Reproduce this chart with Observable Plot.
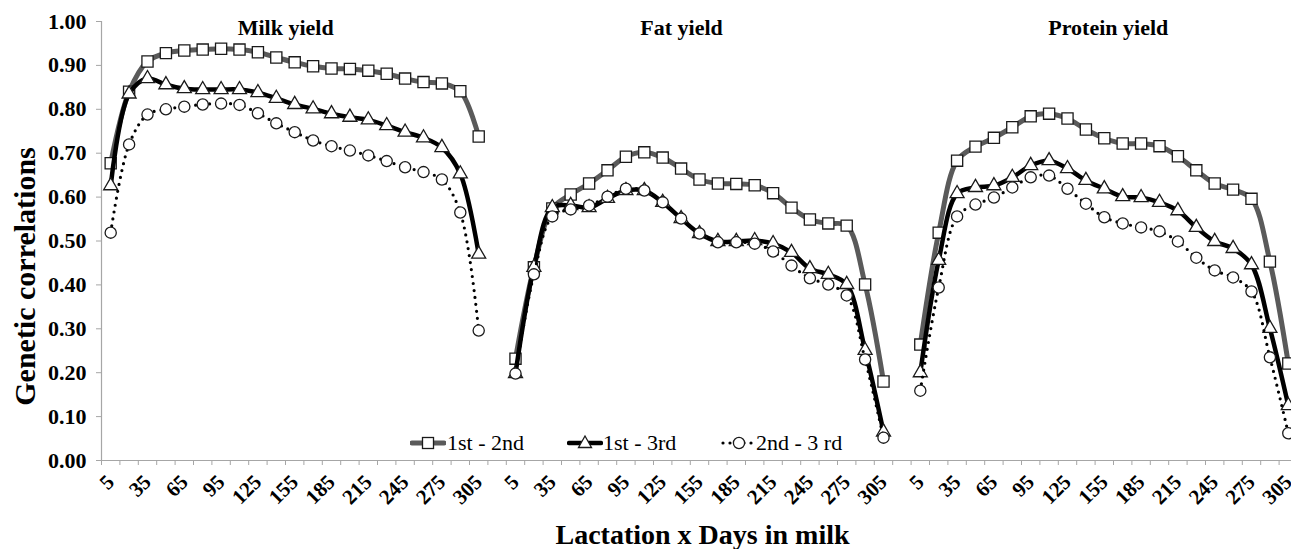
<!DOCTYPE html>
<html>
<head>
<meta charset="utf-8">
<script src="https://cdn.jsdelivr.net/npm/d3@7"></script>
<script src="https://cdn.jsdelivr.net/npm/@observablehq/plot@0.6"></script>
<style>
  html, body { margin: 0; padding: 0; background: #fff; }
  #wrap { position: relative; width: 1291px; height: 549px; overflow: hidden; font-family: "Liberation Serif", "Times New Roman", serif; }
  .leg { position: absolute; top: 432px; height: 22px; display: flex; align-items: center; font-size: 22px; color: #000; white-space: nowrap; font-family: "Liberation Serif", serif; }
  .leg svg { display: block; margin-right: 1px; }
</style>
</head>
<body>
<div id="wrap"></div>
<script>
// ---- data ----
const traits = ["Milk yield", "Fat yield", "Protein yield"];
const days = [5, 20, 35, 50, 65, 80, 95, 110, 125, 140, 155, 170, 185, 200, 215, 230, 245, 260, 275, 290, 305];
const xTickLabels = ["5", "35", "65", "95", "125", "155", "185", "215", "245", "275", "305"];
const yTickValues = [0, 0.1, 0.2, 0.3, 0.4, 0.5, 0.6, 0.7, 0.8, 0.9, 1.0];
const yTickLabels = ["0.00", "0.10", "0.20", "0.30", "0.40", "0.50", "0.60", "0.70", "0.80", "0.90", "1.00"];
const pairs = ["1st - 2nd", "1st - 3rd", "2nd - 3 rd"];

const milk12 = [0.677, 0.840, 0.909, 0.928, 0.934, 0.936, 0.938, 0.936, 0.930, 0.918, 0.907, 0.898, 0.893, 0.892, 0.888, 0.881, 0.870, 0.862, 0.859, 0.841, 0.738];
const milk13 = [0.626, 0.835, 0.870, 0.856, 0.847, 0.845, 0.845, 0.845, 0.838, 0.825, 0.811, 0.801, 0.790, 0.782, 0.776, 0.763, 0.748, 0.735, 0.713, 0.653, 0.470];
const milk23 = [0.519, 0.720, 0.788, 0.800, 0.806, 0.811, 0.813, 0.810, 0.791, 0.768, 0.748, 0.729, 0.716, 0.706, 0.695, 0.682, 0.668, 0.657, 0.640, 0.565, 0.296];

const fat12 = [0.232, 0.440, 0.574, 0.606, 0.631, 0.661, 0.692, 0.702, 0.690, 0.665, 0.640, 0.631, 0.630, 0.627, 0.609, 0.576, 0.549, 0.540, 0.535, 0.401, 0.180];
const fat13 = [0.198, 0.440, 0.576, 0.581, 0.576, 0.597, 0.615, 0.615, 0.588, 0.551, 0.517, 0.499, 0.499, 0.501, 0.494, 0.474, 0.437, 0.424, 0.401, 0.251, 0.065];
const fat23 = [0.198, 0.424, 0.556, 0.572, 0.581, 0.601, 0.619, 0.615, 0.588, 0.551, 0.517, 0.497, 0.497, 0.494, 0.476, 0.444, 0.415, 0.401, 0.376, 0.230, 0.052];

const prot12 = [0.264, 0.519, 0.683, 0.715, 0.735, 0.759, 0.784, 0.790, 0.779, 0.754, 0.734, 0.722, 0.722, 0.716, 0.693, 0.661, 0.631, 0.617, 0.596, 0.453, 0.221];
const prot13 = [0.200, 0.456, 0.608, 0.622, 0.626, 0.645, 0.672, 0.683, 0.665, 0.638, 0.619, 0.601, 0.599, 0.588, 0.569, 0.531, 0.499, 0.483, 0.446, 0.301, 0.125];
const prot23 = [0.159, 0.394, 0.556, 0.583, 0.599, 0.622, 0.645, 0.649, 0.619, 0.585, 0.554, 0.540, 0.531, 0.522, 0.499, 0.462, 0.433, 0.417, 0.385, 0.235, 0.062];

const seriesByTrait = [[milk12, milk13, milk23], [fat12, fat13, fat23], [prot12, prot13, prot23]];

// ---- layout of the category axis: each trait block plus one empty category between blocks ----
const block = days.length + 1;
const nCat = traits.length * block - 1;
const rows = [];
traits.forEach((t, ti) => pairs.forEach((p, pi) => seriesByTrait[ti][pi].forEach((v, j) => {
  rows.push({trait: t, pair: p, day: days[j], pos: ti * block + j + 0.5, value: v});
})));
const xTicks = [];
traits.forEach((t, ti) => days.forEach((d, j) => {
  if (xTickLabels.includes(String(d))) xTicks.push({pos: ti * block + j + 0.5, label: String(d)});
}));
const xLabelMap = new Map(xTicks.map(d => [d.pos, d.label]));
const boundaries = d3.range(0, nCat + 1);

const axisGray = "#a6a6a6";
const markerStroke = "#1a1a1a";
const styles = [
  {stroke: "#5a5a5a", strokeWidth: 5, dash: null, symbol: "square", r: 6.3},
  {stroke: "#000000", strokeWidth: 4.5, dash: null, symbol: "triangle", r: 5.2},
  {stroke: "#000000", strokeWidth: 3.2, dash: "0 7", symbol: "circle", r: 5.6}
];

const seriesMarks = pairs.flatMap((p, pi) => {
  const s = styles[pi];
  const data = rows.filter(d => d.pair === p);
  return [
    Plot.line(data, {x: "pos", y: "value", z: "trait", curve: "catmull-rom",
      stroke: s.stroke, strokeWidth: s.strokeWidth, strokeDasharray: s.dash, strokeLinecap: "round", strokeLinejoin: "round"}),
    Plot.dot(data, {x: "pos", y: "value", symbol: () => s.symbol, r: s.r, fill: "white", stroke: markerStroke, strokeWidth: 1.3})
  ];
});

const chart = Plot.plot({
  width: 1291,
  height: 549,
  marginLeft: 101,
  marginRight: 0,
  marginTop: 0,
  marginBottom: 89,
  style: {fontFamily: "'Liberation Serif', 'Times New Roman', serif", background: "white", color: "black", overflow: "visible"},
  x: {type: "linear", domain: [0, nCat], range: [101, 101 + nCat * 18.4]},
  y: {domain: [0, 1], range: [460, 21]},
  symbol: {type: "identity"},
  marks: [
    Plot.ruleY([0], {x1: 0, x2: nCat, stroke: axisGray, strokeWidth: 1.2}),
    Plot.ruleX([0], {y1: 0, y2: 1, stroke: axisGray, strokeWidth: 1.2}),
    Plot.axisX({ticks: boundaries, tickFormat: () => "", tickSize: 5, stroke: axisGray, label: null}),
    Plot.axisX({ticks: xTicks.map(d => d.pos), tickFormat: d => xLabelMap.get(d), tickSize: 0, tickPadding: 18,
      tickRotate: -45, fontSize: 21, fontWeight: "bold", label: null}),
    Plot.axisY({ticks: yTickValues, tickFormat: d => yTickLabels[yTickValues.indexOf(d)], tickSize: 5, tickPadding: 10,
      stroke: axisGray, fontSize: 22, fontWeight: "bold", label: null}),
    ...seriesMarks,
    Plot.text([traits[0]], {x: () => 0 * block + days.length / 2, frameAnchor: "top", lineAnchor: "middle", dy: 27, dx: -9, fontSize: 22, fontWeight: "bold"}),
    Plot.text([traits[1]], {x: () => 1 * block + days.length / 2, frameAnchor: "top", lineAnchor: "middle", dy: 27, dx: -18, fontSize: 22, fontWeight: "bold"}),
    Plot.text([traits[2]], {x: () => 2 * block + days.length / 2, frameAnchor: "top", lineAnchor: "middle", dy: 27, dx: 4, fontSize: 22, fontWeight: "bold"}),
    Plot.text(["Genetic correlations"], {frameAnchor: "left", textAnchor: "middle", lineAnchor: "middle", rotate: -90, dx: -76, dy: 46, fontSize: 30, fontWeight: "bold"}),
    Plot.text(["Lactation x Days in milk"], {frameAnchor: "bottom", textAnchor: "middle", lineAnchor: "middle", dx: 6, dy: 75, fontSize: 28, fontWeight: "bold"})
  ]
});

const wrap = document.getElementById("wrap");
wrap.appendChild(chart);

// ---- legend (inside plot area, bottom) ----
const legendPos = [{sym: 410, txt: 447}, {sym: 567, txt: 603}, {sym: 721, txt: 756}];
function symbolSvg(pi) {
  const s = styles[pi];
  const dash = s.dash ? `stroke-dasharray="${s.dash}"` : "";
  let m = "";
  if (s.symbol === "square") m = `<rect x="12.5" y="5.5" width="11" height="11" fill="white" stroke="${markerStroke}" stroke-width="1.3"/>`;
  else if (s.symbol === "triangle") m = `<path d="M18,4 L24.5,15.5 L11.5,15.5 Z" fill="white" stroke="${markerStroke}" stroke-width="1.3"/>`;
  else m = `<circle cx="18" cy="11" r="5.6" fill="white" stroke="${markerStroke}" stroke-width="1.3"/>`;
  return `<svg width="36" height="22" viewBox="0 0 36 22"><line x1="2" y1="11" x2="34" y2="11" stroke="${s.stroke}" stroke-width="${s.strokeWidth}" stroke-linecap="round" ${dash}/>${m}</svg>`;
}
pairs.forEach((p, pi) => {
  const sym = document.createElement("div");
  sym.className = "leg";
  sym.style.left = legendPos[pi].sym + "px";
  sym.innerHTML = symbolSvg(pi);
  wrap.appendChild(sym);
  const t = document.createElement("div");
  t.className = "leg";
  t.style.left = legendPos[pi].txt + "px";
  t.textContent = p;
  wrap.appendChild(t);
});
</script>
</body>
</html>
